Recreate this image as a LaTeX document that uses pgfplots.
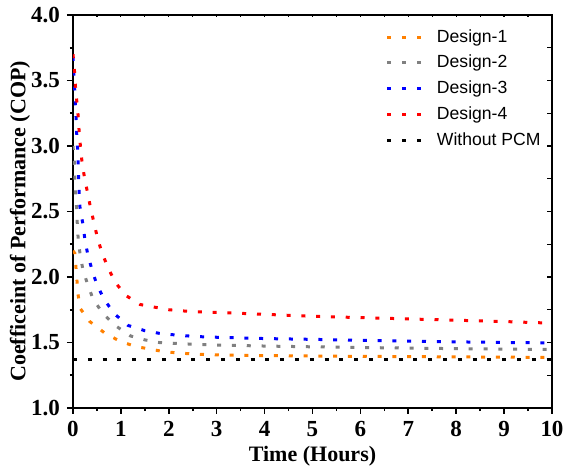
\documentclass[border=0pt]{standalone}
\usepackage{fontspec}
\setmainfont{Liberation Serif}
\newfontfamily\legfont{Liberation Sans}
\usepackage{pgfplots}
\pgfplotsset{compat=1.18}
\definecolor{dorange}{RGB}{255,128,0}
\definecolor{dgray}{RGB}{128,128,128}
\definecolor{dblue}{RGB}{0,0,255}
\definecolor{dred}{RGB}{255,0,0}
\begin{document}
\begin{tikzpicture}
\path[use as bounding box] (-36.5pt,-29pt) rectangle (245pt,204pt);
\pgfplotsset{
  base/.style={scale only axis, width=239.5pt, height=196.5pt,
    xmin=0, xmax=10, ymin=1, ymax=4,
    xtick={0,1,...,10}, ytick={1,1.5,...,4},
    minor x tick num=1, minor y tick num=1},
  dl/.style={line width=1.5pt, dash pattern=on 2pt off 5.4pt},
}
\begin{axis}[base,
  axis line style={line width=0.8pt},
  tick align=outside, xtick pos=left, ytick pos=left,
  major tick length=3pt, minor tick length=1.6pt,
  tick style={line width=0.8pt, black},
  ticklabel style={font=\fontsize{11.5}{13}\selectfont\bfseries},
  /pgf/number format/assume math mode=true,
  yticklabel style={/pgf/number format/fixed, /pgf/number format/precision=1, /pgf/number format/fixed zerofill},
  xlabel={Time (Hours)},
  ylabel={Coefficeint of Performance (COP)},
  xlabel style={yshift=2pt, font=\fontsize{11}{13}\selectfont\bfseries},
  every axis y label/.style={at={(axis description cs:-0.1106,0.475)}, rotate=90, anchor=center, font=\fontsize{11}{13}\selectfont\bfseries},
  legend style={draw=none, fill=none, at={(rel axis cs:0.64,0.985)}, anchor=north west,
    font=\legfont\fontsize{8.8}{10}\selectfont, row sep=1pt, column sep=5pt},
  legend image code/.code={\draw[#1] (0pt,0pt) -- (17pt,0pt);},
  legend cell align=left,
]
\addplot[dl, color=dorange] coordinates {
(0,2.20) (0.04,2.18) (0.06,2.08) (0.08,1.99) (0.10,1.88) (0.15,1.76) (0.35,1.66) (0.67,1.57) (0.98,1.51) (1.3,1.47) (1.6,1.45) (1.9,1.43) (2.2,1.42) (2.6,1.41) (3,1.405) (4,1.40) (5,1.397) (6,1.394) (7,1.392) (8,1.39) (9,1.388) (9.95,1.386)
};
\addlegendentry{Design-1}
\addplot[dl, color=dgray] coordinates {
(0,3.00) (0.03,2.87) (0.04,2.76) (0.05,2.63) (0.08,2.51) (0.09,2.40) (0.11,2.28) (0.15,2.17) (0.21,2.05) (0.31,1.94) (0.42,1.83) (0.63,1.72) (0.88,1.63) (1.2,1.55) (1.5,1.52) (1.8,1.50) (2.3,1.49) (3,1.48) (4,1.473) (5,1.467) (6,1.462) (7,1.457) (8,1.453) (9,1.45) (9.9,1.447)
};
\addlegendentry{Design-2}
\addplot[dl, color=dblue] coordinates {
(0,3.68) (0.02,3.52) (0.04,3.41) (0.05,3.30) (0.07,3.18) (0.08,3.07) (0.10,2.96) (0.11,2.85) (0.12,2.74) (0.13,2.63) (0.15,2.51) (0.21,2.40) (0.25,2.28) (0.31,2.17) (0.40,2.05) (0.50,1.94) (0.65,1.83) (0.86,1.72) (1.15,1.63) (1.5,1.59) (1.8,1.57) (2.2,1.555) (2.6,1.545) (3,1.54) (4,1.53) (5,1.524) (6,1.517) (7,1.51) (8,1.505) (9,1.50) (9.9,1.497)
};
\addlegendentry{Design-3}
\addplot[dl, color=dred] coordinates {
(0,3.70) (0.03,3.58) (0.05,3.46) (0.08,3.34) (0.11,3.22) (0.13,3.10) (0.16,2.98) (0.19,2.87) (0.24,2.76) (0.30,2.65) (0.36,2.54) (0.44,2.41) (0.51,2.30) (0.60,2.19) (0.72,2.08) (0.88,1.96) (1.1,1.86) (1.4,1.79) (1.7,1.77) (2.0,1.75) (2.5,1.735) (3,1.73) (4,1.715) (5,1.70) (6,1.69) (7,1.68) (8,1.67) (9,1.66) (9.8,1.65)
};
\addlegendentry{Design-4}
\addplot[dl, color=black] coordinates {
(0,1.367) (10,1.367)
};
\addlegendentry{Without PCM}
\end{axis}
\begin{axis}[base, axis line style={draw=none}, tick align=inside,
  xtick pos=right, ytick=\empty, xticklabels={},
  major tick length=1.2pt, minor tick length=1.2pt,
  tick style={line width=0.6pt, black}]
\end{axis}
\begin{axis}[base, axis line style={draw=none}, tick align=inside,
  ytick pos=right, xtick=\empty, yticklabels={},
  major tick length=2.5pt, minor tick length=2.5pt,
  tick style={line width=0.6pt, black}]
\end{axis}
\end{tikzpicture}
\end{document}
